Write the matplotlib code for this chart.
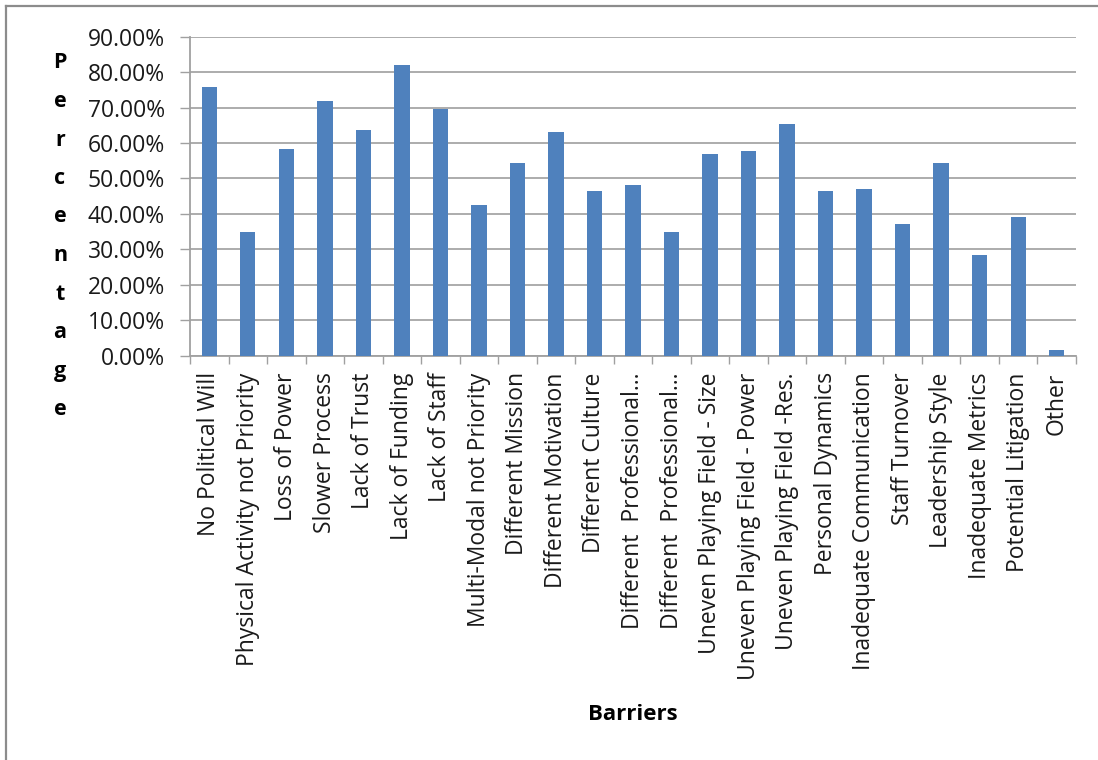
import matplotlib
matplotlib.use("Agg")
import matplotlib.pyplot as plt
from matplotlib.lines import Line2D
from matplotlib.ticker import FuncFormatter, MultipleLocator
import numpy as np

# Survey results: share of respondents naming each barrier
barriers = [
    "No Political Will",
    "Physical Activity not Priority",
    "Loss of Power",
    "Slower Process",
    "Lack of Trust",
    "Lack of Funding",
    "Lack of Staff",
    "Multi-Modal not Priority",
    "Different Mission",
    "Different Motivation",
    "Different Culture",
    "Different  Professional…",
    "Different  Professional…",
    "Uneven Playing Field - Size",
    "Uneven Playing Field - Power",
    "Uneven Playing Field -Res.",
    "Personal Dynamics",
    "Inadequate Communication",
    "Staff Turnover",
    "Leadership Style",
    "Inadequate Metrics",
    "Potential Litigation",
    "Other",
]
percentages = [
    75.7, 34.8, 58.4, 71.8, 63.8, 81.9, 69.6, 42.4, 54.5, 63.0, 46.4, 48.3,
    34.8, 57.0, 57.7, 65.3, 46.4, 47.1, 37.1, 54.5, 28.3, 39.2, 1.5,
]
y_label = "Percentage"
x_label = "Barriers"

plt.rcParams["font.family"] = ["Open Sans", "DejaVu Sans"]

W, H = 1098, 760
fig = plt.figure(figsize=(W / 100, H / 100), dpi=100)
fig.patch.set_facecolor("white")

left, right, top, bottom = 190, 1076, 36.7, 355.7
ax = fig.add_axes([left / W, 1 - bottom / H, (right - left) / W, (bottom - top) / H])

x = np.arange(len(barriers))
ax.bar(x, percentages, width=0.4, color="#4F81BD", edgecolor="none", zorder=3)

ax.set_xlim(-0.5, len(barriers) - 0.5)
ax.set_ylim(0, 90)
ax.yaxis.set_major_locator(MultipleLocator(10))
ax.yaxis.set_major_formatter(FuncFormatter(lambda v, _: f"{v:.2f}%"))
ax.grid(axis="y", color="#A6A6A6", linewidth=1.3, zorder=0)
ax.set_axisbelow(True)

# category boundaries carry the x tick marks; labels sit at bar centres
ax.set_xticks(np.arange(len(barriers) + 1) - 0.5)
ax.set_xticklabels([])
ax.set_xticks(x, minor=True)
ax.set_xticklabels(barriers, minor=True, rotation=90, ha="center", va="top",
                   fontsize=16.5, color="#1a1a1a")
ax.tick_params(axis="x", which="major", direction="out", length=6, width=1,
               color="#A0A0A0")
ax.tick_params(axis="x", which="minor", length=0, pad=12)
ax.tick_params(axis="y", direction="out", length=7, width=1, color="#A0A0A0",
               pad=11, labelsize=16.5, labelcolor="#1a1a1a")

for side in ("top", "right"):
    ax.spines[side].set_visible(False)
for side in ("left", "bottom"):
    ax.spines[side].set_color("#A0A0A0")
    ax.spines[side].set_linewidth(1.3)

# vertical, letter-stacked y title
for i, ch in enumerate(y_label):
    fig.text(60 / W, 1 - (63 + i * 38.5) / H, ch, ha="center", va="center",
             fontsize=15.5, fontweight="bold", color="black")

fig.text((left + right) / 2 / W, 1 - 714 / H, x_label, ha="center", va="center",
         fontsize=16, fontweight="bold", color="black")

# chart-area frame along the left and top edges
fig.add_artist(Line2D([6 / W, 6 / W], [0, 1 - 6 / H], transform=fig.transFigure,
                      color="#8C8C8C", linewidth=1.6))
fig.add_artist(Line2D([6 / W, 1], [1 - 6 / H, 1 - 6 / H], transform=fig.transFigure,
                      color="#8C8C8C", linewidth=1.6))

fig.savefig("out.png", dpi=100, facecolor="white")
